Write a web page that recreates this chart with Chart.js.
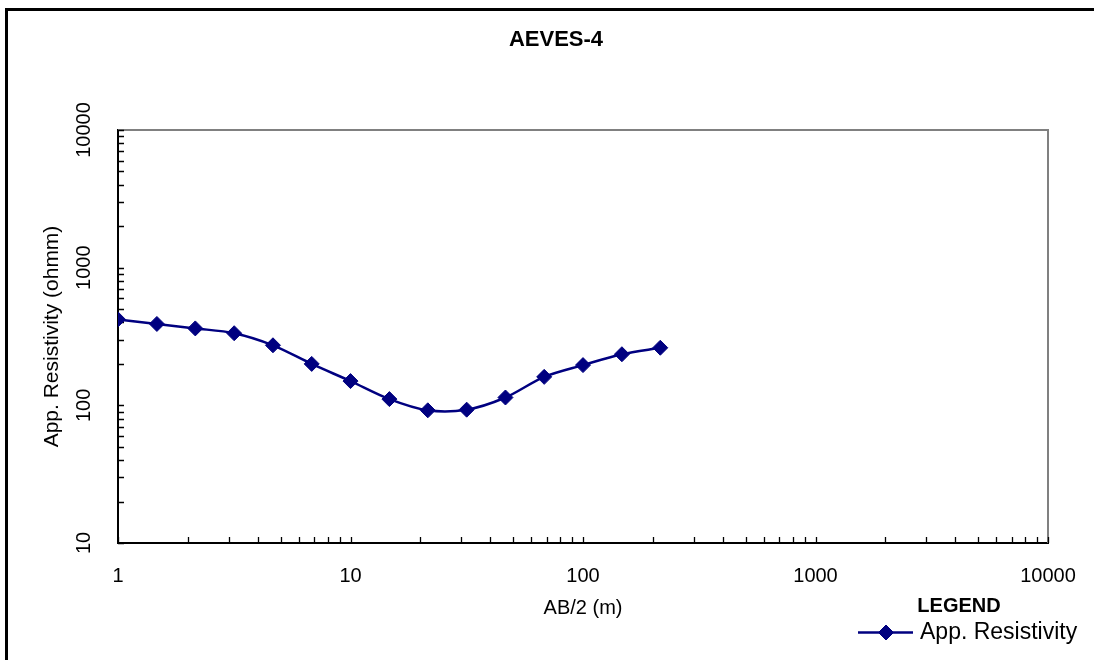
<!DOCTYPE html>
<html>
<head>
<meta charset="utf-8">
<title>AEVES-4</title>
<script src="https://cdn.jsdelivr.net/npm/chart.js@4/dist/chart.umd.min.js"></script>
<style>
  html, body { margin: 0; padding: 0; background: #fff; overflow: hidden; }
  #wrap { position: relative; width: 1094px; height: 660px; overflow: hidden; }
  #frame { position: absolute; left: 5px; top: 8px; width: 1200px; height: 800px; border: 3px solid #000; }
  #chart { position: absolute; left: 0; top: 0; }
</style>
</head>
<body>
<div id="wrap">
  <div id="frame"></div>
  <canvas id="chart" width="1094" height="660"></canvas>
</div>
<script>
// sounding AEVES-4: half electrode spacing (m) vs apparent resistivity (ohm m)
const abHalf = [1, 1.47, 2.15, 3.16, 4.64, 6.81, 10, 14.7, 21.5, 31.6, 46.4, 68.1, 100, 147, 215];
const appResistivity = [421, 390, 362, 334, 273, 200, 150, 111, 92, 93, 114, 161, 196, 235, 262];

const xTickLabels = ['1', '10', '100', '1000', '10000'];
const yTickLabels = ['10', '100', '1000', '10000'];

const NAVY = '#000080';
const FONT = "'Liberation Sans', Arial, sans-serif";

Chart.defaults.font.family = FONT;
Chart.defaults.color = '#000';

// 1..9 in every decade, like the old spreadsheet log axis
function decadeTicks(labels) {
    const lo = Number(labels[0]);
    const hi = Number(labels[labels.length - 1]);
    const ticks = [];
    for (let d = lo; d < hi; d *= 10) {
        for (let m = 1; m < 10; m++) ticks.push({ value: d * m, major: m === 1 });
    }
    ticks.push({ value: hi, major: true });
    return ticks;
}

const plotDecor = {
    id: 'plotDecor',
    beforeDatasetsDraw(chart) {
        const { ctx, chartArea: a, scales: { x, y } } = chart;
        ctx.save();

        // grey top and right edge of the plot box
        ctx.strokeStyle = '#808080';
        ctx.lineWidth = 2;
        ctx.beginPath();
        ctx.moveTo(a.left, a.top);
        ctx.lineTo(a.right, a.top);
        ctx.lineTo(a.right, a.bottom);
        ctx.stroke();

        // tick marks pointing into the plot
        ctx.strokeStyle = '#000';
        ctx.lineWidth = 1.3;
        ctx.beginPath();
        x.ticks.forEach(t => {
            const px = Math.round(x.getPixelForValue(t.value)) + 0.5;
            ctx.moveTo(px, a.bottom);
            ctx.lineTo(px, a.bottom - 6);
        });
        y.ticks.forEach(t => {
            const py = Math.round(y.getPixelForValue(t.value)) + 0.5;
            ctx.moveTo(a.left, py);
            ctx.lineTo(a.left + 6, py);
        });
        ctx.stroke();

        // y labels are turned on their side
        ctx.fillStyle = '#000';
        ctx.font = '20px ' + FONT;
        ctx.textAlign = 'center';
        ctx.textBaseline = 'alphabetic';
        yTickLabels.forEach(l => {
            const py = y.getPixelForValue(Number(l));
            ctx.save();
            ctx.translate(a.left - 28, py);
            ctx.rotate(-Math.PI / 2);
            ctx.fillText(l, 0, 0);
            ctx.restore();
        });
        ctx.restore();
    },
    afterDraw(chart) {
        const { ctx } = chart;
        ctx.save();
        ctx.fillStyle = '#000';
        ctx.textBaseline = 'alphabetic';
        ctx.font = 'bold 20px ' + FONT;
        ctx.textAlign = 'center';
        ctx.fillText('LEGEND', 959, 611.5);

        ctx.strokeStyle = NAVY;
        ctx.lineWidth = 2.5;
        ctx.beginPath();
        ctx.moveTo(858, 632.5);
        ctx.lineTo(913, 632.5);
        ctx.stroke();
        ctx.fillStyle = NAVY;
        ctx.lineWidth = 1;
        Chart.helpers.drawPoint(ctx, { pointStyle: 'rectRot', radius: 7.5, rotation: 0, borderWidth: 1 }, 886, 632.5);

        ctx.fillStyle = '#000';
        ctx.font = '23px ' + FONT;
        ctx.textAlign = 'left';
        ctx.fillText('App. Resistivity', 920, 638.5);
        ctx.restore();
    }
};

new Chart(document.getElementById('chart'), {
    type: 'line',
    data: {
        datasets: [{
            label: 'App. Resistivity',
            data: abHalf.map((v, i) => ({ x: v, y: appResistivity[i] })),
            borderColor: NAVY,
            backgroundColor: NAVY,
            borderWidth: 2.5,
            pointStyle: 'rectRot',
            pointRadius: 7.5,
            pointBorderWidth: 1,
            pointBackgroundColor: NAVY,
            pointBorderColor: NAVY,
            tension: 0.3,
            fill: false
        }]
    },
    options: {
        responsive: false,
        animation: false,
        layout: { padding: { left: 64, right: 46, top: 0, bottom: 0 } },
        plugins: {
            legend: { display: false },
            tooltip: { enabled: false },
            title: {
                display: true,
                text: 'AEVES-4',
                font: { size: 22, weight: 'bold' },
                color: '#000',
                padding: { top: 27, bottom: 76.6 }
            }
        },
        scales: {
            x: {
                type: 'logarithmic',
                min: 1,
                max: 10000,
                afterBuildTicks: scale => { scale.ticks = decadeTicks(xTickLabels); },
                afterFit: scale => { scale.height = 117; },
                grid: { display: false },
                border: { display: true, color: '#000', width: 2 },
                ticks: {
                    autoSkip: false,
                    maxRotation: 0,
                    padding: 13,
                    font: { size: 20 },
                    callback: value => xTickLabels.includes(String(value)) ? String(value) : ''
                },
                title: {
                    display: true,
                    text: 'AB/2 (m)',
                    font: { size: 20 },
                    padding: { top: 0, bottom: 40 }
                }
            },
            y: {
                type: 'logarithmic',
                min: 10,
                max: 10000,
                afterBuildTicks: scale => { scale.ticks = decadeTicks(yTickLabels); },
                afterFit: scale => { scale.width = 54; },
                grid: { display: false },
                border: { display: true, color: '#000', width: 2 },
                ticks: { display: false },
                title: {
                    display: true,
                    text: 'App. Resistivity (ohmm)',
                    font: { size: 21 },
                    padding: { top: -24, bottom: 0 }
                }
            }
        }
    },
    plugins: [plotDecor]
});
</script>
</body>
</html>
